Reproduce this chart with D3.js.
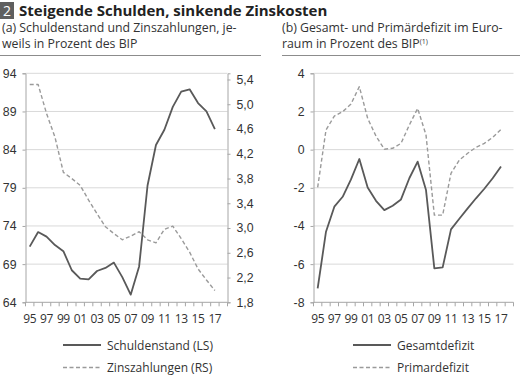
<!DOCTYPE html>
<html><head><meta charset="utf-8">
<script src="https://cdn.jsdelivr.net/npm/d3@7"></script>
<style>
body{margin:0;background:#fff;}
svg{display:block;font-family:"Open Sans","Noto Sans",sans-serif;}
</style></head>
<body><svg id="c" width="520" height="376"></svg>
<script>
const years = d3.range(1995, 2019); // 24 categories, 2018 empty
const tickYears = [1995,1997,1999,2001,2003,2005,2007,2009,2011,2013,2015,2017];
const schuldenstand = [71.3,73.2,72.6,71.5,70.7,68.2,67.1,67.0,68.1,68.5,69.2,67.3,65.0,68.7,79.3,84.6,86.6,89.6,91.6,91.9,90.1,89.0,86.7];
const zinszahlungen = [5.32,5.32,4.85,4.47,3.90,3.80,3.69,3.45,3.23,3.02,2.91,2.81,2.87,2.94,2.81,2.76,2.98,3.03,2.83,2.61,2.34,2.16,1.99];
const gesamtdefizit = [-7.27,-4.30,-2.99,-2.47,-1.56,-0.49,-1.98,-2.68,-3.17,-2.94,-2.61,-1.50,-0.63,-2.12,-6.22,-6.17,-4.18,-3.62,-3.08,-2.55,-2.05,-1.50,-0.88];
const primaerdefizit = [-1.98,1.03,1.76,1.99,2.39,3.30,1.64,0.71,0.02,0.07,0.33,1.29,2.16,0.77,-3.43,-3.43,-1.24,-0.55,-0.19,0.12,0.33,0.64,1.06];
const leftTicks = [64,69,74,79,84,89,94];
const rightTicks = [1.8,2.2,2.6,3.0,3.4,3.8,4.2,4.6,5.0,5.4];
const bTicks = [-8,-6,-4,-2,0,2,4];

const svg = d3.select("#c");
const txt = "#333";
const gridC = "#d9d9d9", axisC = "#a6a6a6";
const solidC = "#595959", dashC = "#9a9a9a";

// Title
svg.append("rect").attr("x",0).attr("y",2).attr("width",14).attr("height",17).attr("fill","#5f5f5f");
svg.append("text").attr("x",7).attr("y",16).attr("text-anchor","middle").attr("fill","#fff").attr("font-size",14).text("2");
svg.append("text").attr("x",19).attr("y",16).attr("fill","#222").attr("font-size",15).attr("font-weight","bold").text("Steigende Schulden, sinkende Zinskosten");

function sub(x, lines, supText){
  lines.forEach((l,i)=>{
    const t = svg.append("text").attr("x",x).attr("y",32+i*16).attr("fill",txt).attr("font-size",12.3).text(l);
    if(supText && i===lines.length-1){
      t.append("tspan").attr("font-size",7).attr("dy",-4).text(supText);
    }
  });
}
sub(2,["(a) Schuldenstand und Zinszahlungen, je-","weils in Prozent des BIP"]);
sub(282,["(b) Gesamt- und Primärdefizit im Euro-","raum in Prozent des BIP"],"(1)");
svg.append("line").attr("x1",0).attr("x2",261).attr("y1",55.5).attr("y2",55.5).attr("stroke","#8c8c8c").attr("stroke-width",1.2);
svg.append("line").attr("x1",282).attr("x2",520).attr("y1",55.5).attr("y2",55.5).attr("stroke","#8c8c8c").attr("stroke-width",1.2);

const plotTop = 73.3, plotBottom = 302.3;

function panel(x0, x1, yDomain, yTicks, fmt, series, rightAxis){
  const x = d3.scaleBand().domain(years).range([x0,x1]);
  const y = d3.scaleLinear().domain(yDomain).range([plotBottom, plotTop]);
  const g = svg.append("g");
  g.selectAll(".grid").data(yTicks.slice(1)).join("line")
    .attr("x1",x0).attr("x2",x1).attr("y1",d=>y(d)).attr("y2",d=>y(d))
    .attr("stroke",gridC).attr("stroke-width",1);
  const ya = g.append("g").attr("transform",`translate(${x0},0)`)
    .call(d3.axisLeft(y).tickValues(yTicks).tickSize(3).tickPadding(6).tickFormat(fmt));
  ya.select(".domain").attr("stroke",axisC);
  ya.selectAll(".tick line").attr("stroke",axisC);
  ya.selectAll("text").attr("fill",txt).attr("font-size",12.3).attr("font-family",null);
  const xa = g.append("g").attr("transform",`translate(0,${plotBottom})`);
  xa.append("line").attr("x1",x0).attr("x2",x1).attr("stroke",axisC);
  xa.selectAll(".xt").data(years.concat([2019])).join("line")
    .attr("x1",d=>d===2019?x1:x(d)).attr("x2",d=>d===2019?x1:x(d)).attr("y1",0).attr("y2",4).attr("stroke",axisC);
  xa.selectAll(".xl").data(tickYears).join("text")
    .attr("x",d=>x(d)+x.bandwidth()/2).attr("y",21).attr("text-anchor","middle")
    .attr("fill",txt).attr("font-size",12).attr("letter-spacing",-0.4).text(d=>String(d%100).padStart(2,"0"));
  if(rightAxis){
    const y2 = d3.scaleLinear().domain(rightAxis.domain).range([plotBottom, plotTop]);
    const ra = g.append("g").attr("transform",`translate(${x1},0)`)
      .call(d3.axisRight(y2).tickValues(rightAxis.ticks).tickSize(3).tickPadding(6).tickFormat(d=>d3.format(".1f")(d).replace(".",",")));
    ra.select(".domain").attr("stroke",axisC);
    ra.selectAll(".tick line").attr("stroke",axisC);
    ra.selectAll("text").attr("fill",txt).attr("font-size",12.3).attr("font-family",null);
    rightAxis.y = y2;
  }
  series.forEach(s=>{
    const ys = s.right ? rightAxis.y : y;
    const line = d3.line().x((d,i)=>x(years[i])+x.bandwidth()/2).y(d=>ys(d));
    g.append("path").datum(s.values).attr("d",line).attr("fill","none")
      .attr("stroke",s.dashed?dashC:solidC).attr("stroke-width",s.dashed?1.4:1.8)
      .attr("stroke-dasharray",s.dashed?"4,2.5":null).attr("stroke-linejoin","round");
  });
}

panel(25.5, 227.5, [64,94], leftTicks, d=>d,
  [{values:zinszahlungen,dashed:true,right:true},{values:schuldenstand}],
  {domain:[1.8,5.5], ticks:rightTicks});
panel(313.5, 513.5, [-8,4], bTicks, d=>d,
  [{values:primaerdefizit,dashed:true},{values:gesamtdefizit}]);

function legend(x, y, label, dashed){
  svg.append("line").attr("x1",x).attr("x2",x+38).attr("y1",y).attr("y2",y)
    .attr("stroke",dashed?dashC:solidC).attr("stroke-width",dashed?1.4:1.8)
    .attr("stroke-dasharray",dashed?"4,2.5":null);
  svg.append("text").attr("x",x+44).attr("y",y+4.5).attr("fill",txt).attr("font-size",12).text(label);
}
legend(63,345,"Schuldenstand (LS)",false);
legend(63,367.5,"Zinszahlungen (RS)",true);
legend(353,345,"Gesamtdefizit",false);
legend(353,367.5,"Primardefizit",true);
</script></body></html>
